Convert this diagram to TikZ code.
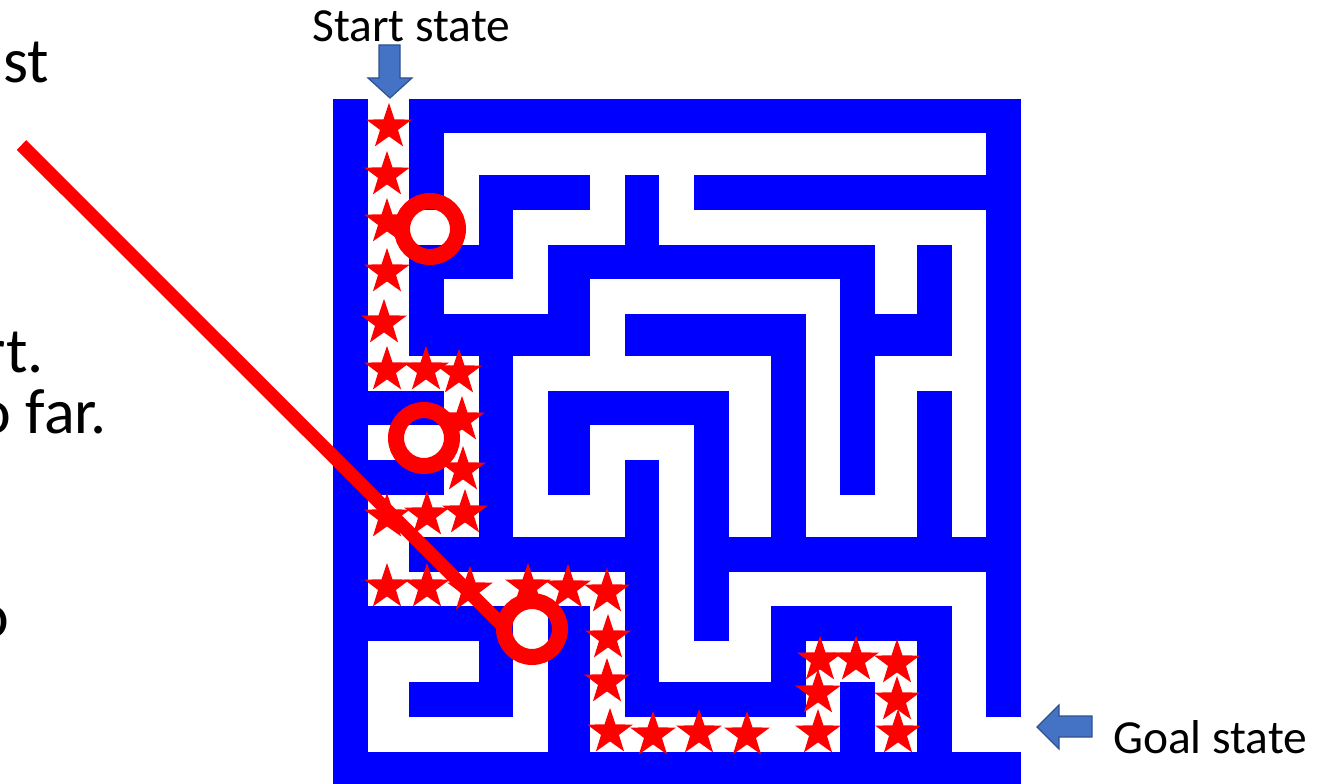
\documentclass[tikz,border=0pt]{standalone}
\usepackage{fontspec}
\setmainfont{Carlito}
\usetikzlibrary{shapes.geometric}
\definecolor{mazeblue}{RGB}{0,0,255}
\definecolor{arrowfill}{RGB}{68,114,196}
\definecolor{arrowline}{RGB}{47,82,143}
\begin{document}
\begin{tikzpicture}[x=1pt,y=-1pt,
  pathstar/.style={star, star points=5, star point ratio=2.55, fill=red, draw=none, inner sep=0pt, minimum size=48pt},
  choicering/.style={circle, draw=red, line width=16pt, minimum size=56pt, inner sep=0pt, fill=none},
  bluearrow/.style={fill=arrowfill, draw=arrowline, line width=1.2pt, line join=miter},
  label/.style={font=\fontsize{47.5}{57}\selectfont, inner sep=0pt, text=black},
  bodytext/.style={font=\fontsize{64}{77}\selectfont, inner sep=0pt, text=black}]
\useasboundingbox (0,0) rectangle (1334,784);
\clip (0,0) rectangle (1334,784);
\def\XA{{333,368,409,444,479,513,548,590,625,659,694,729,771,806,840,875,917,952,986,1021}}
\def\YA{{99,133,175,210,245,279,314,356,391,425,460,495,537,572,606,641,682,717,752,790}}
% maze background (walls)
\fill[mazeblue] (333,99) rectangle (1021,790);
% corridors
\foreach \row [count=\r from 0] in {
 {0,1,0,0,0,0,0,0,0,0,0,0,0,0,0,0,0,0,0},
 {0,1,0,1,1,1,1,1,1,1,1,1,1,1,1,1,1,1,0},
 {0,1,0,1,0,0,0,1,0,1,0,0,0,0,0,0,0,0,0},
 {0,1,1,1,0,1,1,1,0,1,1,1,1,1,1,1,1,1,0},
 {0,1,0,0,0,1,0,0,0,0,0,0,0,0,0,1,0,1,0},
 {0,1,0,1,1,1,0,1,1,1,1,1,1,1,0,1,0,1,0},
 {0,1,0,0,0,0,0,1,0,0,0,0,0,1,0,0,0,1,0},
 {0,1,1,1,0,1,1,1,1,1,1,1,0,1,0,1,1,1,0},
 {0,0,0,1,0,1,0,0,0,0,0,1,0,1,0,1,0,1,0},
 {0,1,1,1,0,1,0,1,1,1,0,1,0,1,0,1,0,1,0},
 {0,0,0,1,0,1,0,1,0,1,0,1,0,1,0,1,0,1,0},
 {0,1,1,1,0,1,1,1,0,1,0,1,0,1,1,1,0,1,0},
 {0,1,0,0,0,0,0,0,0,1,0,0,0,0,0,0,0,0,0},
 {0,1,1,1,1,1,1,1,0,1,0,1,1,1,1,1,1,1,0},
 {0,0,0,0,0,1,0,1,0,1,0,1,0,0,0,0,0,1,0},
 {0,1,1,1,0,1,0,1,0,1,1,1,0,1,1,1,0,1,0},
 {0,1,0,0,0,1,0,1,0,0,0,0,0,1,0,1,0,1,0},
 {0,1,1,1,1,1,0,1,1,1,1,1,1,1,0,1,0,1,1},
 {0,0,0,0,0,0,0,0,0,0,0,0,0,0,0,0,0,0,0}}{
  \foreach \v [count=\c from 0] in \row {
    \ifnum\v=1
      \pgfmathsetmacro\xa{\XA[\c]-0.4}
      \pgfmathsetmacro\xb{\XA[\c+1]+0.4}
      \pgfmathsetmacro\ya{\YA[\r]-0.4}
      \pgfmathsetmacro\yb{\YA[\r+1]+0.4}
      \fill[white] (\xa,\ya) rectangle (\xb,\yb);
    \fi
  }
}
% labels and arrows
\node[label, anchor=base west] (start) at (312,42) {Start state};
\node[label, anchor=base west] (goal) at (1113,753) {Goal state};
\filldraw[bluearrow] (379,45) -- (400,45) -- (400,78) -- (412,78) -- (390,98) -- (368,78) -- (379,78) -- cycle;
\filldraw[bluearrow] (1092,716) -- (1059,716) -- (1059,705) -- (1037,727) -- (1059,749) -- (1059,737) -- (1092,737) -- cycle;
% text fragments cut by the left edge
\node[bodytext, anchor=base east] (t0) at (14,-8) {y};
\node[bodytext, anchor=base east] (t1) at (49,83) {st};
\node[bodytext, anchor=base east] (t2) at (44,372) {rt.};
\node[bodytext, anchor=base east] (t3) at (107,433) {o far.};
\node[bodytext, anchor=base east] (t4) at (9,637) {o};
% pointer line
\coordinate (lstart) at (21.5,145);
\coordinate (lend) at (505,628);
\draw[red, line width=13.5pt] (lstart) -- (lend);
% DFS path stars
\foreach \p [count=\i] in {(389,127),(387,175),(387,222),(387,272),(384,323),(387,370),(426,370),(459,373),(462,420),(463,470),(387,517),(427,515),(465,513),(387,587),(427,587),(470,590),(528,587),(568,588),(607,592),(608,638),(607,682),(610,732),(653,735),(699,733),(747,735),(818,733),(818,693),(820,660),(856,660),(897,663),(897,700),(898,733)}{
  \node[pathstar] (s\i) at \p {};
}
% choice-point rings
\node[choicering] (ring1) at (430,229) {};
\node[choicering] (ring2) at (424,438) {};
\node[choicering] (ring3) at (532,629) {};
\end{tikzpicture}
\end{document}
